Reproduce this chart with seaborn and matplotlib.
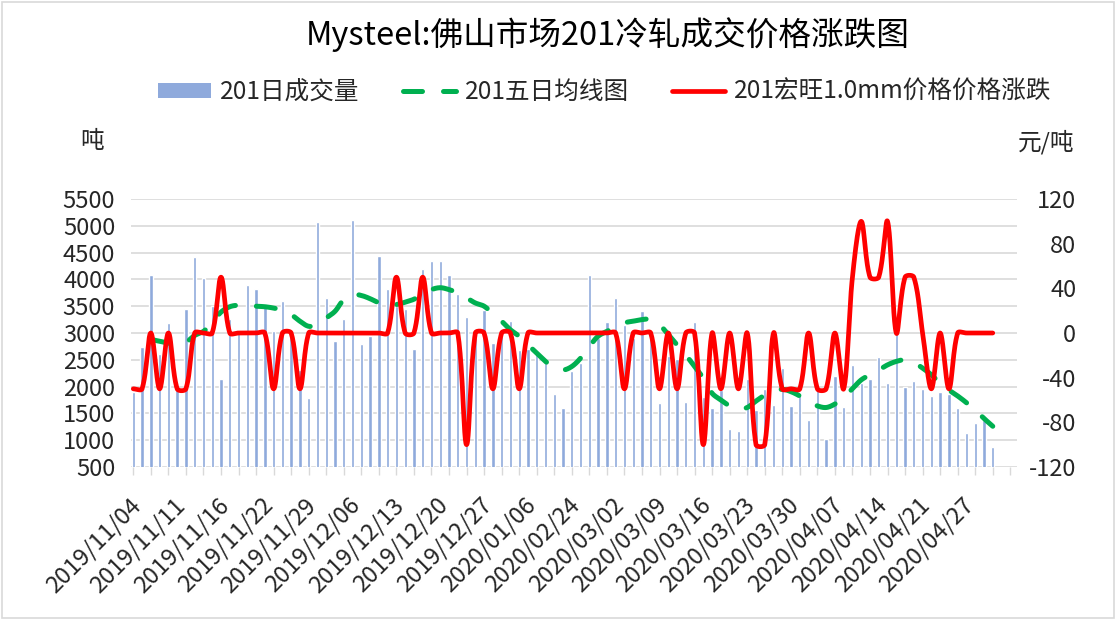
import numpy as np
import matplotlib
matplotlib.use("Agg")
import matplotlib.pyplot as plt
import matplotlib.transforms as mtransforms
from matplotlib.patches import Patch, Rectangle
from matplotlib.lines import Line2D
import seaborn as sns

sns.set_style("white")
plt.rcParams['font.family'] = ['Noto Sans CJK SC', 'DejaVu Sans']
plt.rcParams['axes.unicode_minus'] = False

# ---------------- data ----------------
title = "Mysteel:佛山市场201冷轧成交价格涨跌图"
series_names = ["201日成交量", "201五日均线图", "201宏旺1.0mm价格价格涨跌"]
left_unit = "吨"
right_unit = "元/吨"

tick_labels = ['2019/11/04', '2019/11/11', '2019/11/16', '2019/11/22', '2019/11/29',
               '2019/12/06', '2019/12/13', '2019/12/20', '2019/12/27', '2020/01/06',
               '2020/02/24', '2020/03/02', '2020/03/09', '2020/03/16', '2020/03/23',
               '2020/03/30', '2020/04/07', '2020/04/14', '2020/04/21', '2020/04/27']

volume = [1900, 2740, 4080, 2610, 3190, 1930, 3440, 4420, 4030, 3500,
          2140, 3260, 3050, 3890, 3830, 3530, 3040, 3590, 2950, 2310,
          1780, 5080, 3650, 2860, 3260, 5100, 2800, 2950, 4430, 3830,
          3500, 3450, 2700, 4200, 4350, 4340, 4080, 3720, 3300, 3000,
          3420, 2820, 2950, 3230, 2680, 2700, 2630, 2490, 1860, 1600,
          2300, 2440, 4080, 2900, 3210, 3660, 3140, 2900, 3415, 3000,
          1700, 2570, 2510, 1710, 3210, 1800, 1600, 1930, 1200, 1175,
          2140, 1560, 1950, 1650, 2350, 1630, 1870, 1375, 1930, 1020,
          2200, 1620, 2400, 2060, 2140, 2560, 2075, 3050, 2000, 2110,
          1950, 1825, 1905, 1870, 1605, 1125, 1325, 1370, 865]

ma5 = [np.nan, np.nan, 2880, 2845, 2810, 2790, 2825, 2955, 3030, 3190,
       3390, 3490, 3520, 3520, 3500, 3490, 3465, 3425, 3345, 3220,
       3125, 3155, 3280, 3405, 3625, 3720, 3700, 3640, 3560, 3510,
       3530, 3575, 3630, 3720, 3810, 3845, 3810, 3750, 3655, 3560,
       3500, 3360, 3220, 3060, 2940, 2780, 2625, 2470, 2360, 2310,
       2375, 2530, 2750, 2940, 3030, 3110, 3190, 3220, 3250, 3260,
       3155, 2970, 2780, 2590, 2375, 2155, 1875, 1750, 1640, 1575,
       1610, 1730, 1840, 1900, 1950, 1905, 1825, 1720, 1640, 1610,
       1675, 1800, 1960, 2125, 2220, 2310, 2405, 2470, 2500, 2450,
       2345, 2220, 2060, 1935, 1825, 1700, 1560, 1405, 1260]

price_change = [-50, -50, 0, -50, 0, -50, -50, 0, 0, 0,
                50, 0, 0, 0, 0, 0, -50, 0, 0, -50,
                0, 0, 0, 0, 0, 0, 0, 0, 0, 0,
                50, 0, 0, 50, 0, 0, 0, 0, -100, 0,
                0, -50, 0, 0, -50, 0, 0, 0, 0, 0,
                0, 0, 0, 0, 0, 0, -50, 0, 0, 0,
                -50, 0, -50, 0, 0, -100, 0, -50, 0, -50,
                0, -100, -100, 0, -50, -50, -50, 0, -50, -50,
                0, -50, 50, 100, 50, 50, 100, 0, 50, 50,
                0, -50, 0, -50, 0, 0, 0, 0, 0]

left_ticks = list(range(500, 5501, 500))
right_ticks = list(range(-120, 121, 40))

# ---------------- layout ----------------
W, H = 1115, 619
xmin, xmax = -0.25, 100.8
px_per = 8.77
left_px = 133.3 + xmin * px_per
right_px = 133.3 + xmax * px_per
top_px, bot_px = 199, 467
ylim_left = (500, 5500)
ylim_right = (-120, 120)


def smooth(vals, ylim, n=24):
    """Excel-like smoothed line: Bezier segments whose control points are
    weighted by on-screen segment lengths (keeps plateaus flat)."""
    v = np.asarray(vals, float)
    idx = np.where(~np.isnan(v))[0]
    sy = (bot_px - top_px) / (ylim[1] - ylim[0])
    X = idx * px_per
    Y = v[idx] * sy
    m = len(Y)
    P = np.column_stack([X, Y])
    cin = np.zeros_like(P)
    cout = np.zeros_like(P)
    for i in range(m):
        p0 = P[i - 1] if i > 0 else P[i]
        p2 = P[i + 1] if i < m - 1 else P[i]
        d01 = np.hypot(*(P[i] - p0))
        d12 = np.hypot(*(p2 - P[i]))
        tot = d01 + d12
        T = p2 - p0
        if tot == 0:
            cin[i] = cout[i] = P[i]
            continue
        cin[i] = P[i] - T * (d01 / tot) / 3.0
        cout[i] = P[i] + T * (d12 / tot) / 3.0
    t = np.linspace(0, 1, n, endpoint=False)[:, None]
    segs = []
    for i in range(m - 1):
        a, b, c, d = P[i], cout[i], cin[i + 1], P[i + 1]
        segs.append((1 - t) ** 3 * a + 3 * (1 - t) ** 2 * t * b + 3 * (1 - t) * t ** 2 * c + t ** 3 * d)
    segs.append(P[-1][None, :])
    S = np.vstack(segs)
    return S[:, 0] / px_per, S[:, 1] / sy


fig = plt.figure(figsize=(W / 100, H / 100), dpi=100)
ax = fig.add_axes([left_px / W, 1 - bot_px / H, (right_px - left_px) / W, (bot_px - top_px) / H])

BAR = '#8FAADC'
GREEN = '#00B050'
RED = '#FF0000'
GRID = '#D9D9D9'

sns.barplot(x=np.arange(len(volume)), y=volume, color=BAR, saturation=1,
            width=0.38, ax=ax, zorder=2)

gx, gy = smooth(ma5, ylim_left)
sns.lineplot(x=gx, y=gy, ax=ax, color=GREEN, lw=3.6, sort=False, estimator=None,
             linestyle=(0, (3.8, 4.2)), dash_capstyle='round', zorder=3)

ax2 = ax.twinx()
rx, ry = smooth(price_change, ylim_right)
sns.lineplot(x=rx, y=ry, ax=ax2, color=RED, lw=3.4, sort=False, estimator=None,
             solid_capstyle='round', solid_joinstyle='round', zorder=3)

ax.set_xlim(xmin, xmax)
ax2.set_xlim(xmin, xmax)
ax.set_ylim(*ylim_left)
ax2.set_ylim(*ylim_right)

for a in (ax, ax2):
    for s in a.spines.values():
        s.set_visible(False)
    a.set_xlabel('')
    a.set_ylabel('')

ax.set_yticks(left_ticks)
ax.set_yticklabels([str(v) for v in left_ticks])
ax.yaxis.grid(True, color=GRID, lw=1.2, zorder=0)
ax.set_axisbelow(True)
ax.tick_params(axis='y', length=0, pad=11.5, labelsize=17)

ax2.set_yticks(right_ticks)
ax2.set_yticklabels([str(v) for v in right_ticks])
ax2.tick_params(axis='y', length=0, pad=42.5, labelsize=17)
for lab in ax2.get_yticklabels():
    lab.set_horizontalalignment('right')
ax2.grid(False)
ax2.tick_params(axis='x', which='both', bottom=False, labelbottom=False)

# x axis: labels every 5 categories (major), small tick marks every 2 (minor)
ax.xaxis.remove_overlapping_locs = False
ax.set_xticks(np.arange(0, 100, 5))
ax.set_xticklabels(tick_labels)
ax.set_xticks(np.arange(0, 101, 2), minor=True)
ax.tick_params(axis='x', which='minor', length=6, width=1, color=GRID, bottom=True)
ax.tick_params(axis='x', which='major', length=0, pad=25, labelsize=17, labelrotation=45)
offset = mtransforms.ScaledTranslation(4 / 100, 0, fig.dpi_scale_trans)
for lab in ax.get_xticklabels():
    lab.set_horizontalalignment('right')
    lab.set_verticalalignment('center')
    lab.set_rotation_mode('anchor')
    lab.set_transform(lab.get_transform() + offset)

# texts
fig.text(607.5 / W, 1 - 35 / H, title, ha='center', va='center', fontsize=23.5, color='black')
fig.text(92 / W, 1 - 141 / H, left_unit, ha='center', va='center', fontsize=17)
fig.text(1046 / W, 1 - 142 / H, right_unit, ha='center', va='center', fontsize=17)

handles = [Patch(facecolor=BAR, edgecolor='none'),
           Line2D([0], [0], color=GREEN, lw=3.6, linestyle=(0, (3.8, 4.2)), dash_capstyle='round'),
           Line2D([0], [0], color=RED, lw=3.4)]
fig.legend(handles, series_names, loc='center left', bbox_to_anchor=(158 / W, 1 - 92 / H),
           ncol=3, frameon=False, fontsize=17.7, handlelength=2.16, handleheight=0.6,
           handletextpad=0.37, columnspacing=1.75, borderpad=0, borderaxespad=0)

fig.patches.append(Rectangle((1.5 / W, 1.5 / H), 1 - 3 / W, 1 - 3 / H, transform=fig.transFigure,
                             fill=False, edgecolor=GRID, lw=1.2))

fig.savefig('out.png', dpi=100)
